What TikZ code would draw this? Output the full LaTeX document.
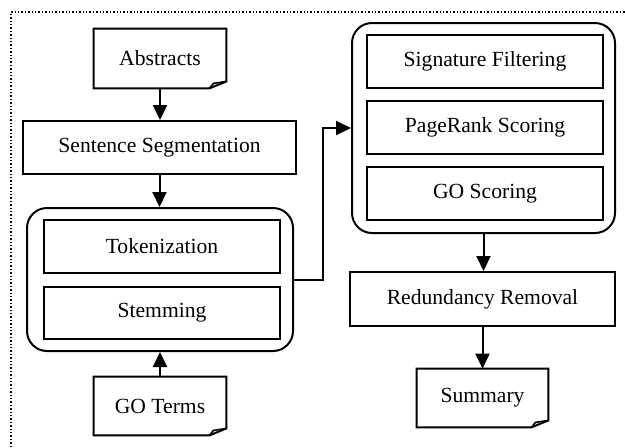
\documentclass[tikz,border=0pt]{standalone}
\usepackage{fontspec}
\setmainfont{Liberation Serif}
\usetikzlibrary{arrows.meta}

\begin{document}
\begin{tikzpicture}[x=0.5pt,y=-0.5pt,
        every node/.style={font=\fontsize{10.8}{13}\selectfont},
        stepbox/.style={draw,line width=1pt,minimum width=118pt,minimum height=26.5pt,inner sep=0pt},
        docnode/.style={minimum width=66pt,minimum height=29.5pt,inner sep=0pt},
        groupbox/.style={draw,line width=1pt,rounded corners=10pt,inner sep=0pt},
        arr/.style={line width=1pt,-{Triangle[length=7.5pt,width=7pt]}}]
        \useasboundingbox (0,0) rectangle (625,447);
        \draw[densely dotted,line width=0.7pt](11,447) -- (11,12) -- (625,12);
        % left column
        \node[docnode] (abs) at (160,58.5) {Abstracts};
        \node[stepbox,minimum width=136.5pt] (seg) at (159.5,147.5) {Sentence Segmentation};
        \node[groupbox,minimum width=133pt,minimum height=71.5pt] (prep) at (160,279.5) {};
        \node[stepbox] (tok) at (162,246.5) {Tokenization};
        \node[stepbox,minimum height=26pt] (stem) at (162,313) {Stemming};
        \node[docnode,minimum height=29pt] (goterms) at (160,406) {GO Terms};
        % right column
        \node[groupbox,minimum width=131.5pt,minimum height=105pt] (score) at (483.5,128) {};
        \node[stepbox] (sig) at (485,61.5) {Signature Filtering};
        \node[stepbox] (rank) at (485,127.5) {PageRank Scoring};
        \node[stepbox] (goscore) at (485,193.5) {GO Scoring};
        \node[stepbox,minimum width=132.5pt,minimum height=27pt] (redund) at (482.5,299) {Redundancy Removal};
        \node[docnode,minimum width=65.5pt,minimum height=29pt] (summ) at (482.5,398) {Summary};
        % document outlines
        \foreach \d in {abs,goterms,summ}{
            \draw[line width=1pt](\d.north west) -- (\d.north east) -- ([yshift=3.5pt]\d.south east)
                -- ([xshift=-8.5pt]\d.south east) -- (\d.south west) -- cycle;
            \draw[line width=0.8pt]([xshift=-8.5pt]\d.south east) -- ++(2pt,2.5pt) -- ([yshift=3.5pt]\d.south east);
        }
        % flow
        \draw[arr](abs.south) -- (abs.south|-seg.north);
        \draw[arr](seg.south) -- (seg.south|-prep.north);
        \draw[arr](goterms.north) -- (goterms.north|-prep.south);
        \draw[arr](prep.east) -- ++(14.5pt,0) |- (score.west);
        \draw[arr](score.south) -- (score.south|-redund.north);
        \draw[arr](redund.south) -- (redund.south|-summ.north);
    \end{tikzpicture}
\end{document}
